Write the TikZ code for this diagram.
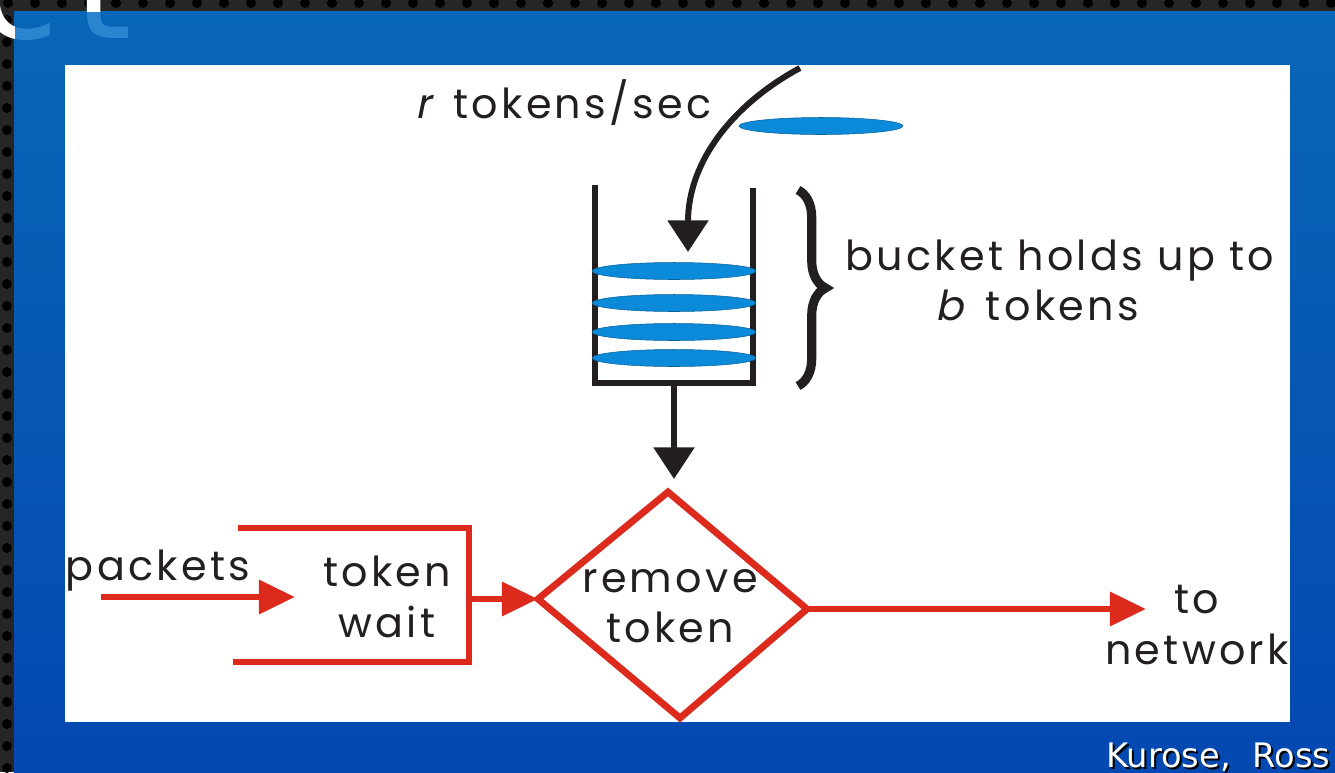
\documentclass[tikz,border=0pt]{standalone}
\usepackage{fontspec}
\setmainfont{Poppins}[LetterSpace=8]
\newfontface\fakeit[FakeSlant=0.2,LetterSpace=8]{Poppins}
\newfontfamily\dejavu{DejaVu Sans}
\usetikzlibrary{arrows.meta,decorations.pathreplacing}
\definecolor{bgdark}{HTML}{262626}
\definecolor{bgtop}{HTML}{0866B6}
\definecolor{bgbot}{HTML}{0448B1}
\definecolor{redc}{HTML}{DC2A1C}
\definecolor{inkc}{HTML}{231F20}
\definecolor{tokc}{HTML}{0B8ADA}
\definecolor{titlec}{HTML}{2A84D0}
\begin{document}
\begin{tikzpicture}[x=0.02cm,y=-0.02cm,
  lbl/.style={inner sep=0pt, text=inkc, font=\fontsize{23.5}{28.6}\selectfont},
  redline/.style={draw=redc, line width=3.9pt, line join=miter},
  redarrow/.style={redline, -{Triangle[length=20.5pt,width=18.7pt]}},
  blackline/.style={draw=inkc, line width=3.4pt, line join=miter},
  blackarrow/.style={blackline, -{Triangle[length=18pt,width=22.7pt]}},
  tokenel/.style={fill=tokc, draw=tokc!70!black, line width=0.3pt},
  titletext/.style={anchor=base west, inner sep=0pt, font=\dejavu\fontsize{85}{85}\selectfont},
  credtext/.style={anchor=base west, inner sep=0pt, font=\dejavu\fontsize{19.2}{19.2}\selectfont}
]
\useasboundingbox (0,0) rectangle (1335,772);
% dark textured frame
\fill[bgdark] (0,0) rectangle (1335,772);
\foreach \i in {0,...,50} \fill[black] (\i*27+8,3) circle [radius=5];
\foreach \j in {0,...,35} \fill[black] (7,\j*22+20) circle [radius=5];
% blue slide area
\shade[top color=bgtop, bottom color=bgbot] (14,11) rectangle (1335,772);
% cut-off title fragment
\begin{scope}
  \clip (14,11) rectangle (1335,65);
  \node[titletext, text=titlec] (title) at (-23,38) {c\kern 8pt t};
\end{scope}
\begin{scope}
  \clip (0,0) -- (1335,0) -- (1335,11) -- (14,11) -- (14,772) -- (0,772) -- cycle;
  \node[titletext, text=white] (titlew) at (-23,38) {c\kern 8pt t};
\end{scope}
% white panel
\fill[white] (65,65) rectangle (1290,722);

% bucket
\coordinate (bktl) at (595,185);
\coordinate (bkbl) at (595,383);
\coordinate (bkbr) at (753,383);
\coordinate (bktr) at (753,188);
\coordinate (bkbot) at (674,383);
\draw[blackline] (bktl) -- (bkbl) -- (bkbr) -- (bktr);
\foreach \yy in {271,303,332,358}
  \filldraw[tokenel] (674,\yy) ellipse [x radius=82, y radius=8.5];
\filldraw[tokenel] (821,126) ellipse [x radius=82, y radius=8.5];

% incoming tokens arrow
\coordinate (rin) at (800,68);
\coordinate (rtip) at (688,252);
\draw[blackarrow] (rin) .. controls (735,103) and (688,160) .. (rtip);

% brace
\coordinate (brt) at (798,190);
\coordinate (brb) at (798,386);
\draw[inkc, line width=5.2pt, decorate, decoration={brace, amplitude=15.6pt}] (brt) -- (brb);

% diamond
\coordinate (dl) at (538,599);
\coordinate (dt) at (668,492);
\coordinate (dr) at (807,609);
\coordinate (db) at (680,718);
\draw[redline] (dl) -- (dt) -- (dr) -- (db) -- cycle;

% bucket to diamond
\draw[blackarrow, shorten >=7.4pt] (bkbot) -- (bkbot |- dt);

% token wait bracket
\coordinate (twtl) at (238,528);
\coordinate (twtr) at (469,528);
\coordinate (twbr) at (469,662);
\coordinate (twbl) at (233,662);
\coordinate (twout) at (469,599);
\draw[redline] (twtl) -- (twtr) -- (twbr) -- (twbl);
\draw[redarrow] (twout) -- (dl);

% packets arrow
\coordinate (pkin) at (101,597);
\coordinate (pkend) at (295,597);
\draw[redarrow] (pkin) -- (pkend);

% to network arrow
\coordinate (netend) at (1146,609);
\draw[redarrow] (dr) -- (netend);

% labels
\node[lbl, anchor=base west] (rate) at (415,118) {{\fakeit r}\hspace{0.55em}tokens/sec};
\node[lbl, anchor=base west] (cap1) at (845,270) {bucket holds up to};
\node[lbl, anchor=base west] (cap2) at (935,320) {{\fakeit b}\hspace{0.55em}tokens};
\node[lbl, anchor=base] (pk) at (158,580) {packets};
\node[lbl, align=center] (tw) at (387,597) {token\\wait};
\node[lbl, align=center] (rt) at (670,606) {remove\\token};
\node[lbl, align=center] (net) at (1197,625) {to\\network};

% credit
\node[credtext, text=black] (credsh) at (1108,769) {Kurose,\ \ Ross};
\node[credtext, text=white] (cred) at (1106,767) {Kurose,\ \ Ross};
\end{tikzpicture}
\end{document}
